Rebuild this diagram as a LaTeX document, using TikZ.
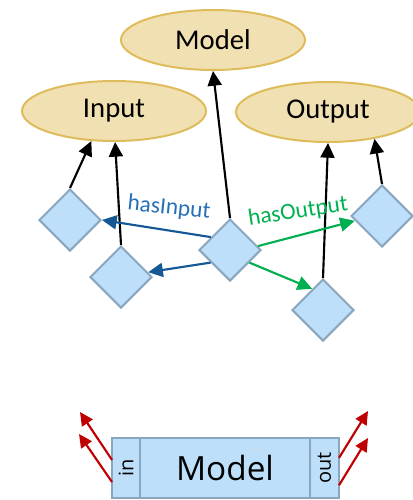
\documentclass[tikz,border=0pt]{standalone}
\usepackage{fontspec}
\usepackage{graphicx}
\setmainfont{Carlito}
\newfontfamily\boxfont{Open Sans}
\usetikzlibrary{shapes.geometric,arrows.meta}
\definecolor{classfill}{RGB}{241,224,178}
\definecolor{classdraw}{RGB}{222,188,92}
\definecolor{instfill}{RGB}{189,223,250}
\definecolor{instdraw}{RGB}{138,166,190}
\definecolor{inblue}{RGB}{20,88,150}
\definecolor{intext}{RGB}{38,112,184}
\definecolor{outgreen}{RGB}{0,176,80}
\definecolor{portred}{RGB}{192,0,0}
\begin{document}
\begin{tikzpicture}[x=0.75pt,y=-0.75pt,
    class/.style={ellipse,draw=classdraw,fill=classfill,line width=1.5pt,
      minimum width=138pt,minimum height=45pt,inner sep=0pt,
      font=\fontsize{21.5}{25}\selectfont},
    inst/.style={diamond,draw=instdraw,fill=instfill,line width=1.5pt,
      minimum width=46.5pt,minimum height=46.5pt,inner sep=0pt},
    sub/.style={-{Triangle[length=11pt,width=10.5pt]},line width=1.6pt},
    hasin/.style={-{Triangle[length=11pt,width=10.5pt]},line width=1.6pt,inblue},
    hasout/.style={-{Triangle[length=11pt,width=10.5pt]},line width=1.6pt,outgreen},
    port/.style={rectangle,draw=instdraw,fill=instfill,line width=1.5pt,
      minimum height=45pt,inner sep=0pt,outer sep=0pt},
    portarrow/.style={-{Triangle[length=10pt,width=9.5pt]},line width=1.6pt,portred}]

        \useasboundingbox (0,0) rectangle (413,500);

        \node[class] (model) at (213,40) {Model};
        \node[class] (input) at (114,111) {Input};
        \node[class] (output) at (328,112) {Output};

        \node[inst] (ia) at (70,220) {};
        \node[inst] (ib) at (121,277) {};
        \node[inst] (m) at (230,250) {};
        \node[inst] (oa) at (382,216) {};
        \node[inst] (ob) at (323,310) {};

        \draw[sub] (ia.north) -- (input.233);
        \draw[sub] (ib.north) -- (input.272);
        \draw[sub] (m.north) -- (model.south);
        \draw[sub] (ob.north) -- (output.south);
        \draw[sub] (oa.north) -- (output.330);

        \draw[hasin] (m.146) -- (ia.east);
        \draw[hasin] (m.213) -- (ib.10);
        \draw[hasout] (m.8) -- (oa.190);
        \draw[hasout] (m.327) -- (ob.117);

        \node[intext,rotate=-6,font=\fontsize{17.5}{20}\selectfont] (lin) at (169,208) {hasInput};
        \node[outgreen,rotate=8.5,font=\fontsize{17.5}{20}\selectfont] (lout) at (298,212) {hasOutput};

        \node[port,minimum width=21pt,font=\boxfont\fontsize{15}{18}\selectfont] (pin) at (126,468) {\rotatebox{90}{in}};
        \node[port,minimum width=127.5pt,font=\boxfont\fontsize{25}{30}\selectfont] (body) at (225,468) {Model};
        \node[port,minimum width=21.75pt,font=\boxfont\fontsize{15}{18}\selectfont] (pout) at (324.5,468) {\rotatebox{90}{out}};

        \coordinate (ta) at (80,412);
        \coordinate (tb) at (79,434);
        \coordinate (tc) at (368,411);
        \coordinate (td) at (368,438);
        \draw[portarrow] (pin.150) -- (ta);
        \draw[portarrow] (pin.225) -- (tb);
        \draw[portarrow] (pout.35) -- (tc);
        \draw[portarrow] (pout.310) -- (td);

\end{tikzpicture}
\end{document}
